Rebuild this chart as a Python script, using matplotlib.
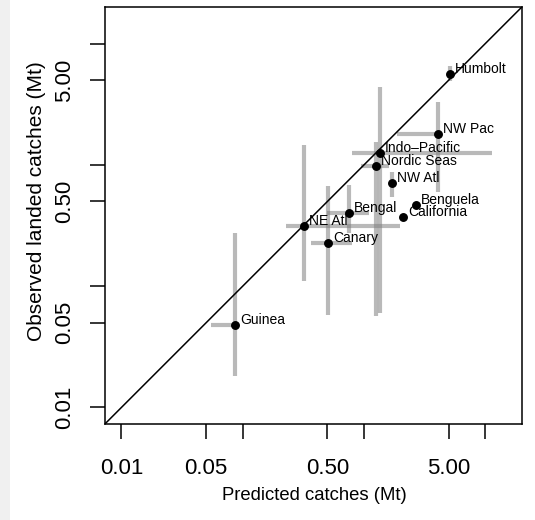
import numpy as np
import matplotlib
matplotlib.use("Agg")
import matplotlib.pyplot as plt
from matplotlib.patches import Rectangle

plt.rcParams['font.family'] = ['Liberation Sans', 'DejaVu Sans']

# Catch estimates per region (Mt)
regions = ['Humbolt', 'NW Pac', 'Indo\u2013Pacific', 'Nordic Seas', 'NW Atl',
           'Benguela', 'California', 'Bengal', 'NE Atl', 'Canary', 'Guinea']
predicted = [5.1, 4.1, 1.36, 1.25, 1.71, 2.68, 2.10, 0.75, 0.32, 0.51, 0.087]
observed = [5.6, 1.80, 1.26, 0.975, 0.71, 0.47, 0.373, 0.40, 0.313, 0.228, 0.048]

# uncertainty ranges (nan = no bar drawn)
pred_lo = [np.nan, 1.88, 0.80, 0.95, np.nan, np.nan, np.nan, 0.50, 0.227, 0.363, 0.055]
pred_hi = [np.nan, 4.10, 11.5, 1.60, np.nan, np.nan, np.nan, 1.10, 2.00, 0.80, 0.087]
obs_lo = [4.9, 0.60, 0.060, 0.057, 0.54, np.nan, np.nan, 0.275, 0.110, 0.058, 0.018]
obs_hi = [6.5, 3.30, 4.40, 1.56, 0.87, np.nan, np.nan, 0.69, 1.45, 0.667, 0.275]

ticks = [0.01, 0.05, 0.1, 0.5, 1, 5, 10]
tick_labels = ['0.01', '0.05', '', '0.50', '', '5.00', '']
lims = (0.0073, 20.2)

fig = plt.figure(figsize=(5.35, 5.2), dpi=100)
fig.patches.append(Rectangle((0, 0), 10 / 535, 1, transform=fig.transFigure,
                             facecolor='#f0f0f0', edgecolor='none', zorder=-1))
ax = fig.add_axes([0.196, 0.1846, 0.780, 0.8025])
ax.set_xscale('log')
ax.set_yscale('log')

bar_kw = dict(color='#808080', alpha=0.55, lw=3, solid_capstyle='butt', zorder=2)
for x, y, xl, xh, yl, yh in zip(predicted, observed, pred_lo, pred_hi, obs_lo, obs_hi):
    if not np.isnan(xl):
        ax.plot([xl, xh], [y, y], **bar_kw)
    if not np.isnan(yl):
        ax.plot([x, x], [yl, yh], **bar_kw)

ax.plot([1e-3, 1e2], [1e-3, 1e2], color='black', lw=1.1, zorder=3)
ax.plot(predicted, observed, 'o', color='black', ms=5.4, zorder=4)

for name, x, y in zip(regions, predicted, observed):
    ax.annotate(name, (x, y), xytext=(3.5, 3.5), textcoords='offset points',
                ha='left', va='center', fontsize=10, zorder=5)

ax.set_xlim(lims)
ax.set_ylim(lims)
ax.set_xticks(ticks)
ax.set_xticklabels(tick_labels)
ax.set_yticks(ticks)
ax.set_yticklabels(tick_labels)
ax.minorticks_off()
ax.tick_params(axis='both', direction='out', length=10.8, width=1.1, labelsize=16)
ax.tick_params(axis='x', pad=13.5)
ax.tick_params(axis='y', pad=10.5, labelrotation=90)
for lab in ax.get_yticklabels():
    lab.set_va('center')
for sp in ax.spines.values():
    sp.set_linewidth(1.1)

ax.set_xlabel('Predicted catches (Mt)', fontsize=13.3)
ax.xaxis.set_label_coords(0.501, -0.151)
ax.set_ylabel('Observed landed catches (Mt)', fontsize=15)
ax.yaxis.set_label_coords(-0.141, 0.534)

fig.savefig('out.png', dpi=100)
